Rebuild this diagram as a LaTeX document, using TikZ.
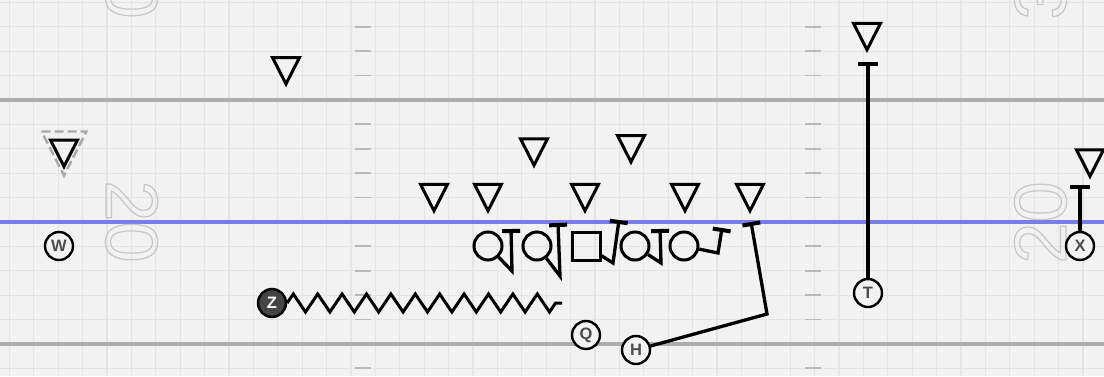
\documentclass[tikz,border=0pt]{standalone}
\usepackage{fontspec}
\setsansfont{Liberation Sans}
\usetikzlibrary{arrows.meta,positioning,decorations.pathmorphing}

\definecolor{fieldbg}{HTML}{F2F2F2}
\definecolor{gridgray}{HTML}{E4E4E4}
\definecolor{linegray}{HTML}{ADADAD}
\definecolor{hashgray}{HTML}{B8B8B8}
\definecolor{numgray}{HTML}{C6C6C6}
\definecolor{scrimblue}{HTML}{7A7DE8}
\definecolor{labelgray}{HTML}{4D4D4D}
\definecolor{zfill}{HTML}{454545}
\definecolor{ghostgray}{HTML}{A8A8A8}

\newcommand{\hollow}[1]{\special{pdf:literal direct 1 Tr 1.2 w}#1\special{pdf:literal direct 0 Tr}}

\begin{document}
\begin{tikzpicture}[x=1pt, y=-1pt,
  player/.style={circle, draw, line width=2.4pt, minimum size=28pt, inner sep=0pt,
                 fill=fieldbg, text=labelgray, font=\sffamily\bfseries\fontsize{16.5}{16.5}\selectfont},
  lineman/.style={circle, draw, line width=3pt, minimum size=28pt, inner sep=0pt},
  snapper/.style={rectangle, draw, line width=3pt, minimum size=28pt, inner sep=0pt},
  yardnum/.style={text=numgray, inner sep=0pt, font=\sffamily\fontsize{74}{74}\selectfont},
  deflook/.style={line width=3pt, line join=miter},
  route/.style={line width=3.3pt, line join=miter},
  block/.style={route, -{Bar[width=18pt, line width=4pt]}},
  defender/.pic={\draw[pic actions] (-13.5,0) -- (13.5,0) -- (0,26.5) -- cycle;},
  node distance=18pt
]
  \fill[fieldbg] (0,0) rectangle (1104,376);
  \useasboundingbox (0,0) rectangle (1104,376);
  \clip (0,0) rectangle (1104,376);

  \foreach \i in {0,...,45}
    \draw[gridgray, line width=1.2pt] ({9.3+24.4*\i},0) -- ++(0,376);
  \foreach \j in {0,...,15}
    \draw[gridgray, line width=1.2pt] (0,{2.3+24.4*\j}) -- ++(1104,0);
  \foreach \j in {1,2,3,5,6,7,8,10,11,12,13,15} {
    \draw[hashgray, line width=1.8pt] (355,{2.3+24.4*\j}) -- ++(16,0);
    \draw[hashgray, line width=1.8pt] (805,{2.3+24.4*\j}) -- ++(16,0);
  }
  \draw[linegray, line width=3.2pt] (0,100) -- (1104,100);
  \draw[linegray, line width=3.2pt] (0,344) -- (1104,344);
  \draw[scrimblue, line width=3.4pt] (0,222) -- (1104,222);

  \node[yardnum, rotate=-90] (num20l) at (131.5,221.5) {\hollow{20}};
  \node[yardnum, rotate=90] (num20r) at (1040.5,222.5) {\hollow{20}};
  \node[yardnum, rotate=-90] (num30l) at (131.5,-22.5) {\hollow{30}};
  \node[yardnum, rotate=90] (num30r) at (1040.5,-21.5) {\hollow{30}};

  \pic[draw=ghostgray, line width=2.4pt, dash pattern=on 9pt off 4pt, scale=1.66] (ghost) at (64,131.5) {defender};
  \foreach \x/\y [count=\k] in {286/57.5, 64/140, 434/184.3, 488/184.3, 534/138.8, 585/184.3,
                                631/135.5, 685/184.3, 750/184.3, 867/23.3, 1090/149.8}
    \pic[draw, deflook] (def\k) at (\x,\y) {defender};

  \node[player] (W) at (59,246) {W};
  \node[player, fill=zfill, text=white] (Z) at (272,303) {Z};
  \node[player] (Q) at (586,335) {Q};
  \node[player] (H) at (636,350) {H};
  \node[player] (T) at (868,293) {T};
  \node[player] (X) at (1080,246) {X};

  \node[snapper] (C) at (586,246) {};
  \node[lineman, left=of C] (LG) {};
  \node[lineman, left=of LG] (LT) {};
  \node[lineman, right=of C] (RG) {};
  \node[lineman, right=of RG] (RT) {};

  \coordinate (LTk) at ([shift={(24,25)}]LT.center);
  \coordinate (LTe) at ([shift={(23,-17)}]LT.center);
  \coordinate (LGk) at ([shift={(23,30)}]LG.center);
  \coordinate (LGe) at ([shift={(21,-23)}]LG.center);
  \coordinate (Ck) at ([shift={(27,17)}]C.center);
  \coordinate (Ce) at ([shift={(33,-26)}]C.center);
  \coordinate (RGk) at ([shift={(26,17)}]RG.center);
  \coordinate (RGe) at ([shift={(25,-17)}]RG.center);
  \coordinate (RTk) at ([shift={(34,7)}]RT.center);
  \coordinate (RTe) at ([shift={(38,-18)}]RT.center);
  \coordinate (Hk) at (767,314);
  \coordinate (He) at (751,222);
  \coordinate (Te) at (868,62);
  \coordinate (Xe) at (1080,185);
  \coordinate (Ze) at (562,303);

  \draw[block] (LT) -- (LTk) -- (LTe);
  \draw[block] (LG) -- (LGk) -- (LGe);
  \draw[block] (C) -- (Ck) -- (Ce);
  \draw[block] (RG) -- (RGk) -- (RGe);
  \draw[block] (RT) -- (RTk) -- (RTe);
  \draw[block] (H) -- (Hk) -- (He);
  \draw[route, -{Bar[width=20pt, line width=4pt]}] (T) -- (Te);
  \draw[route, -{Bar[width=20pt, line width=4pt]}] (X) -- (Xe);
  \draw[route, line width=3pt, decorate,
        decoration={zigzag, amplitude=9pt, segment length=24.4pt}] (Z) -- (Ze);
\end{tikzpicture}
\end{document}
